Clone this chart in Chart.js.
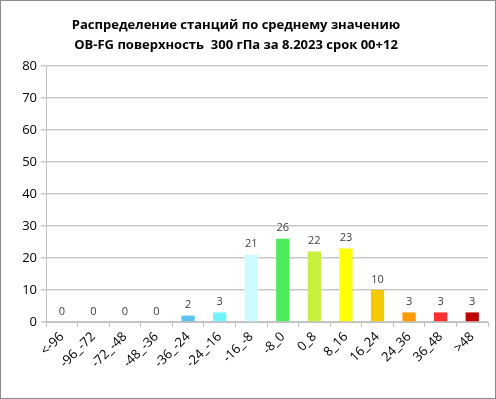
<!DOCTYPE html>
<html><head><meta charset="utf-8">
<script src="https://cdn.jsdelivr.net/npm/chart.js@4"></script>
<style>html,body{margin:0;padding:0;background:#fff}#w{width:496px;height:399px;position:relative}</style>
</head><body><div id="w"><canvas id="c" width="496" height="399"></canvas></div>
<script>
const titleLines = ["Распределение станций по среднему значению", "OB-FG поверхность  300 гПа за 8.2023 срок 00+12"];
const categories = ["<-96","-96_-72","-72_-48","-48_-36","-36_-24","-24_-16","-16_-8","-8_0","0_8","8_16","16_24","24_36","36_48",">48"];
const counts = [0,0,0,0,2,3,21,26,22,23,10,3,3,3];
const barColors = ["#5BC3EE","#5BC3EE","#5BC3EE","#5BC3EE","#5BC3EE","#70F5FF","#CCFAFF","#4CEB5A","#C8F040","#FFFF00","#F5C800","#FF9A00","#FF2E2E","#C00000"];
const yTicks = [0,10,20,30,40,50,60,70,80];

const deco = {
  id:'deco',
  beforeDraw(chart){
    const ctx=chart.ctx;
    ctx.save();
    ctx.fillStyle='#fff';ctx.fillRect(0,0,496,399);
    ctx.strokeStyle='#8c8c8c';ctx.lineWidth=1;
    ctx.strokeRect(0.5,0.5,495,398);
    ctx.fillStyle='#000';
    ctx.font='bold 13px "Open Sans", sans-serif';
    ctx.textAlign='center';ctx.textBaseline='middle';
    ctx.fillText(titleLines[0],236,25);
    ctx.fillText(titleLines[1],236,45);
    ctx.restore();
  },
  afterDatasetsDraw(chart){
    const ctx=chart.ctx;const meta=chart.getDatasetMeta(0);
    ctx.save();ctx.fillStyle='#404040';ctx.font='11px "Open Sans", sans-serif';
    ctx.textAlign='center';ctx.textBaseline='bottom';
    meta.data.forEach((el,i)=>{ctx.fillText(String(counts[i]),el.x,el.y-5);});
    ctx.restore();
  }
};

new Chart(document.getElementById('c'),{
  type:'bar',
  data:{labels:categories,datasets:[{data:counts,backgroundColor:barColors,borderWidth:0,barPercentage:0.42,categoryPercentage:1}]},
  options:{
    responsive:false,animation:false,
    layout:{padding:{left:0,right:8,top:66,bottom:0}},
    plugins:{legend:{display:false},tooltip:{enabled:false},title:{display:false}},
    scales:{
      x:{
        grid:{display:true,drawOnChartArea:false,drawTicks:true,tickLength:5,color:'#bfbfbf',offset:true},
        border:{color:'#bfbfbf',width:1},
        ticks:{color:'#000',font:{family:'"Open Sans", sans-serif',size:13},minRotation:45,maxRotation:45,autoSkip:false,padding:2},
        afterFit(s){s.height=77;}
      },
      y:{
        min:0,max:80,
        afterBuildTicks(s){s.ticks=yTicks.map(v=>({value:v}));},
        grid:{color:'#c8c8c8',lineWidth:1.5,tickLength:5,drawTicks:true},
        border:{color:'#bfbfbf',width:1},
        ticks:{color:'#000',font:{family:'"Open Sans", sans-serif',size:13},padding:4},
        afterFit(s){s.width=46;}
      }
    }
  },
  plugins:[deco]
});
</script></body></html>
